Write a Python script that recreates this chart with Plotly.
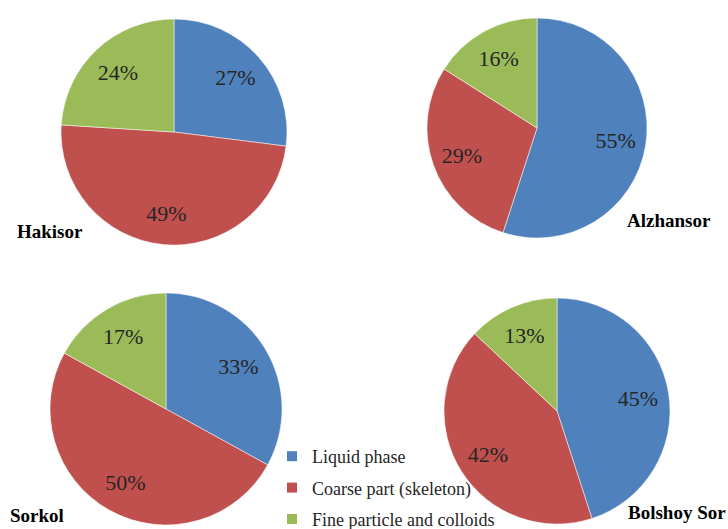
import plotly.graph_objects as go

W, H = 728, 529

labels = ["Liquid phase", "Coarse part (skeleton)", "Fine particle and colloids"]
colors = ["#4F81BD", "#C0504D", "#9BBB59"]

sites = ["Hakisor", "Alzhansor", "Sorkol", "Bolshoy Sor"]
hakisor = [27, 49, 24]
alzhansor = [55, 29, 16]
sorkol = [33, 50, 17]
bolshoy_sor = [45, 42, 13]
values = [hakisor, alzhansor, sorkol, bolshoy_sor]

SERIF = "Times New Roman, Liberation Serif, serif"

# pie centers / radii in pixels (layout)
geom = [(174, 132, 113), (537, 128, 110), (166, 409, 116), (557, 411, 113)]
# site-name label centers in pixels (layout)
name_pos = [(50, 232), (669, 220), (37, 515), (677, 512)]

fig = go.Figure()
for i, (site, vals) in enumerate(zip(sites, values)):
    cx, cy, r = geom[i]
    dom = dict(x=[(cx - r) / W, (cx + r) / W],
               y=[1 - (cy + r) / H, 1 - (cy - r) / H])
    # filled pie
    fig.add_trace(go.Pie(
        labels=labels, values=vals, name=site,
        sort=False, direction="clockwise", rotation=0,
        marker=dict(colors=colors, line=dict(color="white", width=0.5)),
        textinfo="none",
        domain=dom, showlegend=False, hoverinfo="label+percent",
    ))
    # transparent ring carrying the percentage labels further out
    fig.add_trace(go.Pie(
        labels=labels, values=vals, name=site,
        sort=False, direction="clockwise", rotation=0, hole=0.45,
        marker=dict(colors=["rgba(0,0,0,0)"] * 3, line=dict(width=0)),
        texttemplate="%{value}%",
        textposition="inside", insidetextorientation="horizontal",
        insidetextfont=dict(family=SERIF, size=22, color="#262626"),
        domain=dom, showlegend=False, hoverinfo="skip",
    ))
    nx, ny = name_pos[i]
    fig.add_annotation(x=nx / W, y=1 - ny / H, xref="paper", yref="paper",
                       xanchor="center", yanchor="middle",
                       text="<b>" + site + "</b>", showarrow=False,
                       font=dict(family=SERIF, size=19, color="black"))

# legend entries (one per component)
for lab, col in zip(labels, colors):
    fig.add_trace(go.Scatter(
        x=[None], y=[None], mode="markers", name=lab, legendgroup=lab,
        marker=dict(symbol="square", size=10, color=col),
        showlegend=True, hoverinfo="skip",
    ))

fig.update_layout(
    width=W, height=H, margin=dict(l=0, r=0, t=0, b=0, autoexpand=False),
    paper_bgcolor="white", plot_bgcolor="rgba(0,0,0,0)",
    font=dict(family=SERIF, color="#262626"),
    xaxis=dict(visible=False), yaxis=dict(visible=False),
    legend=dict(x=272 / W, y=1 - 438 / H, xanchor="left", yanchor="top",
                font=dict(family=SERIF, size=18, color="#262626"),
                bgcolor="rgba(0,0,0,0)", itemwidth=30, tracegroupgap=5),
    showlegend=True,
)
fig.write_html("out.html")
